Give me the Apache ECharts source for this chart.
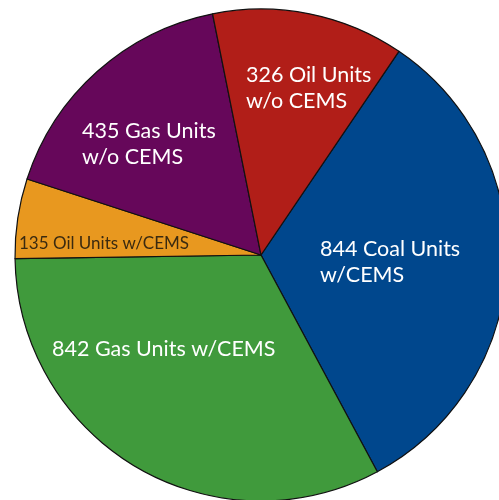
<!DOCTYPE html>
<html>
<head>
<meta charset="utf-8">
<script src="https://cdn.jsdelivr.net/npm/echarts@6/dist/echarts.min.js"></script>
<style>html,body{margin:0;padding:0;background:#fff;}#c{width:499px;height:500px;}</style>
</head>
<body>
<div id="c"></div>
<script>
var categories = ["Coal Units\nw/CEMS", "Gas Units w/CEMS", "Oil Units w/CEMS", "Gas Units\nw/o CEMS", "Oil Units\nw/o CEMS"];
var unitCounts = [844, 842, 135, 435, 326];
var sliceColors = ["#00478d", "#409a3c", "#e8981f", "#66075a", "#b11e18"];
var labelColors = ["#ffffff", "#ffffff", "#3a2a10", "#ffffff", "#ffffff"];
var labelSizes = [21.5, 21.5, 17, 21.5, 21.5];
var labelPos = [[320, 262], [52, 349], [19, 244], [82, 144], [246, 88]];

var data = unitCounts.map(function (v, i) {
  return {
    value: v,
    name: categories[i],
    itemStyle: { color: sliceColors[i] },
    label: { color: labelColors[i], fontSize: labelSizes[i], lineHeight: labelSizes[i] > 20 ? 26 : 18 }
  };
});

var chart = echarts.init(document.getElementById('c'), null, { renderer: 'canvas' });
chart.setOption({
  animation: false,
  series: [{
    type: 'pie',
    center: [261, 255],
    radius: 246,
    startAngle: 55.9,
    clockwise: true,
    avoidLabelOverlap: false,
    itemStyle: { borderColor: '#111', borderWidth: 1.2 },
    label: {
      show: true,
      position: 'inside',
      fontFamily: 'Lato',
      align: 'left',
      formatter: function (p) {
        var t = p.name.split('\n');
        t[0] = p.value + ' ' + t[0];
        return t.join('\n');
      }
    },
    labelLine: { show: false },
    labelLayout: function (params) {
      var pos = labelPos[params.dataIndex];
      return { x: pos[0], y: pos[1], align: 'left', verticalAlign: 'middle' };
    },
    emphasis: { disabled: true },
    data: data
  }]
});
</script>
</body>
</html>
